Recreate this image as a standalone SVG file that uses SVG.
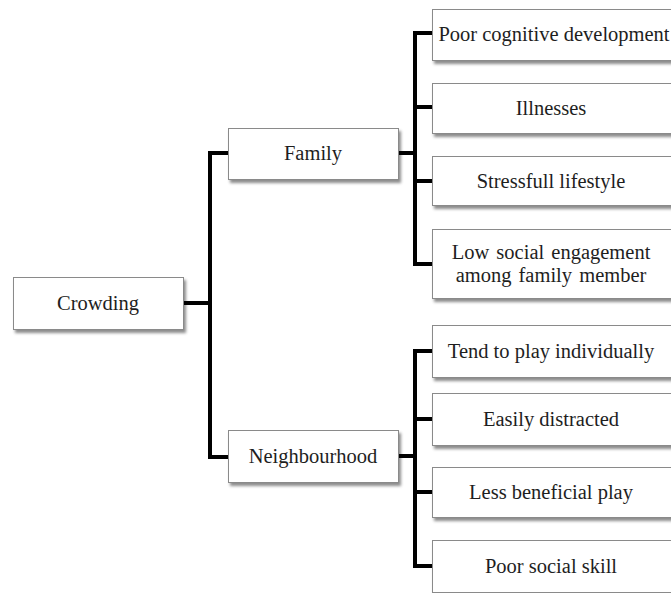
<svg xmlns="http://www.w3.org/2000/svg" width="671" height="593" viewBox="0 0 671 593">
  <defs>
    <filter id="sh" x="-10%" y="-20%" width="130%" height="160%">
      <feDropShadow dx="2" dy="3" stdDeviation="1.8" flood-color="#000" flood-opacity="0.45"/>
    </filter>
  </defs>
  <style>
    .box { fill: #ffffff; stroke: #8a8a8a; stroke-width: 1; filter: url(#sh); }
    .lbl { font-family: "Liberation Serif", "Times New Roman", serif; font-size: 20.5px; fill: #1e1e1e; text-anchor: middle; }
    .con { fill: none; stroke: #000; stroke-width: 4; stroke-linejoin: miter; stroke-linecap: butt; }
  </style>
  <rect width="671" height="593" fill="#ffffff"/>

  <g id="connectors">
    <path class="con" d="M183,303 H210"/>
    <path class="con" d="M228,153 H210 V457 H228"/>
    <path class="con" d="M398,153 H415"/>
    <path class="con" d="M432,33 H415 V264 H432"/>
    <path class="con" d="M415,107 H432"/>
    <path class="con" d="M415,181 H432"/>
    <path class="con" d="M398,456 H415"/>
    <path class="con" d="M432,351 H415 V566 H432"/>
    <path class="con" d="M415,419 H432"/>
    <path class="con" d="M415,492 H432"/>
  </g>

  <g id="crowding">
    <rect class="box" x="13.5" y="277.5" width="170" height="52"/>
    <text class="lbl" x="98" y="310">Crowding</text>
  </g>
  <g id="family">
    <rect class="box" x="228.5" y="128.5" width="170" height="51"/>
    <text class="lbl" x="313" y="160">Family</text>
  </g>
  <g id="neighbourhood">
    <rect class="box" x="228.5" y="430.5" width="170" height="52"/>
    <text class="lbl" x="313" y="463">Neighbourhood</text>
  </g>

  <g id="poor-cognitive">
    <rect class="box" x="432.5" y="9.5" width="245" height="51"/>
    <text class="lbl" x="554" y="41">Poor cognitive development</text>
  </g>
  <g id="illnesses">
    <rect class="box" x="432.5" y="83.5" width="245" height="50"/>
    <text class="lbl" x="551" y="115">Illnesses</text>
  </g>
  <g id="stressfull">
    <rect class="box" x="432.5" y="156.5" width="245" height="49"/>
    <text class="lbl" x="551" y="188">Stressfull lifestyle</text>
  </g>
  <g id="low-social">
    <rect class="box" x="432.5" y="229.5" width="245" height="69"/>
    <text class="lbl" x="551" y="259" word-spacing="2">Low social engagement</text>
    <text class="lbl" x="551" y="282" word-spacing="2">among family member</text>
  </g>

  <g id="tend-to-play">
    <rect class="box" x="432.5" y="325.5" width="245" height="52"/>
    <text class="lbl" x="551" y="358">Tend to play individually</text>
  </g>
  <g id="easily-distracted">
    <rect class="box" x="432.5" y="393.5" width="245" height="52"/>
    <text class="lbl" x="551" y="426">Easily distracted</text>
  </g>
  <g id="less-beneficial">
    <rect class="box" x="432.5" y="467.5" width="245" height="50"/>
    <text class="lbl" x="551" y="499">Less beneficial play</text>
  </g>
  <g id="poor-social">
    <rect class="box" x="432.5" y="540.5" width="245" height="52"/>
    <text class="lbl" x="551" y="573">Poor social skill</text>
  </g>
</svg>
